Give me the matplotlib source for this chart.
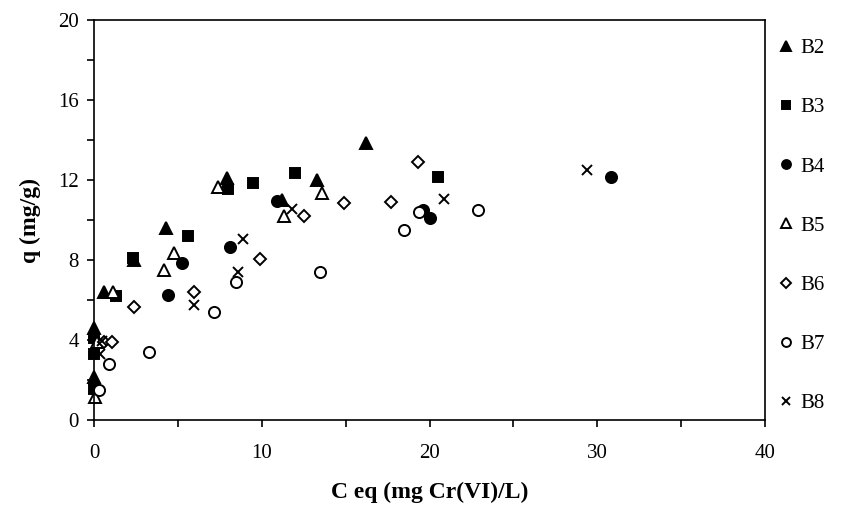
import matplotlib
matplotlib.use("Agg")
import matplotlib.pyplot as plt
from matplotlib.ticker import MultipleLocator

plt.rcParams['font.family'] = ['Liberation Serif', 'DejaVu Serif']

# 数据 (C eq, q)
b2_x = [0.0, 0.0, 0.6, 2.4, 4.3, 7.9, 11.2, 13.3, 16.2]
b2_y = [2.15, 4.6, 6.4, 8.0, 9.6, 12.1, 11.0, 12.0, 13.85]
b3_x = [0.0, 0.0, 0.0, 1.3, 2.3, 5.6, 8.0, 9.5, 12.0, 20.5]
b3_y = [1.55, 3.3, 4.1, 6.2, 8.1, 9.2, 11.55, 11.85, 12.35, 12.15]
b4_x = [4.4, 5.25, 8.1, 10.9, 19.6, 20.0, 30.8]
b4_y = [6.25, 7.85, 8.65, 10.95, 10.5, 10.1, 12.15]
b5_x = [0.05, 0.2, 1.15, 4.2, 4.75, 7.4, 11.3, 13.6]
b5_y = [1.15, 3.9, 6.4, 7.5, 8.35, 11.65, 10.2, 11.35]
b6_x = [0.6, 1.1, 2.4, 5.95, 9.9, 12.5, 14.9, 17.7, 19.3]
b6_y = [3.9, 3.9, 5.65, 6.4, 8.05, 10.2, 10.85, 10.9, 12.9]
b7_x = [0.3, 0.9, 3.3, 7.15, 8.45, 13.45, 18.45, 19.4, 22.9]
b7_y = [1.5, 2.8, 3.4, 5.4, 6.9, 7.4, 9.5, 10.4, 10.5]
b8_x = [0.35, 0.5, 5.95, 8.6, 8.9, 11.8, 20.85, 29.4]
b8_y = [3.3, 3.95, 5.75, 7.4, 9.05, 10.55, 11.05, 12.5]

series = [
    ("B2", b2_x, b2_y, '^', 'k', 9),
    ("B3", b3_x, b3_y, 's', 'k', 7.5),
    ("B4", b4_x, b4_y, 'o', 'k', 8),
    ("B5", b5_x, b5_y, '^', 'w', 9),
    ("B6", b6_x, b6_y, 'D', 'w', 6.5),
    ("B7", b7_x, b7_y, 'o', 'w', 8),
    ("B8", b8_x, b8_y, 'x', 'k', 7),
]

fig = plt.figure(figsize=(8.51, 5.13), dpi=100)
ax = fig.add_axes([0.1105, 0.181, 0.7885, 0.78])

for name, x, y, mk, fc, ms in series:
    ax.plot(x, y, linestyle='none', marker=mk, markersize=ms,
            markerfacecolor=fc, markeredgecolor='k', markeredgewidth=1.4,
            label=name, clip_on=False)

ax.set_xlim(0, 40)
ax.set_ylim(0, 20)
ax.xaxis.set_major_locator(MultipleLocator(10))
ax.xaxis.set_minor_locator(MultipleLocator(5))
ax.yaxis.set_major_locator(MultipleLocator(4))
ax.yaxis.set_minor_locator(MultipleLocator(2))
ax.tick_params(which='both', direction='out', labelsize=15, width=1.2, length=5)
ax.tick_params(axis='x', pad=12)
ax.tick_params(axis='y', pad=6)
for sp in ax.spines.values():
    sp.set_linewidth(1.2)

ax.set_xlabel("C eq (mg Cr(VI)/L)", fontsize=17, fontweight='bold', labelpad=14)
ax.set_ylabel("q (mg/g)", fontsize=17, fontweight='bold', labelpad=12)

ax.legend(loc='upper left', bbox_to_anchor=(1.0, 0.99), frameon=False,
          fontsize=15, labelspacing=1.9, handlelength=0.6, handletextpad=0.4,
          markerscale=0.8, borderaxespad=0.3)

fig.savefig("out.png", dpi=100)
